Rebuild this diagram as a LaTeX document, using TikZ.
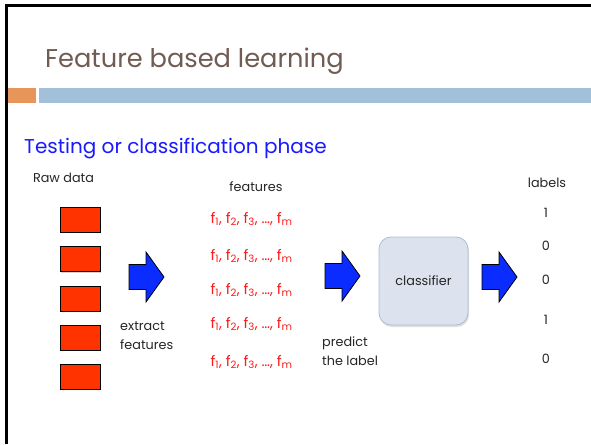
\documentclass[tikz,border=0pt]{standalone}
\usepackage{fontspec}
\setmainfont{Poppins}
\usetikzlibrary{shadows}
\definecolor{titlebrown}{HTML}{705C52}
\definecolor{barorange}{HTML}{E8955A}
\definecolor{barblue}{HTML}{A3C0D9}
\definecolor{phaseblue}{HTML}{1A1AFF}
\definecolor{rawred}{HTML}{FF3300}
\definecolor{featred}{HTML}{FF1A1A}
\definecolor{arrowblue}{HTML}{0A2CFF}
\definecolor{clsfill}{HTML}{DCE3EE}
\definecolor{clsline}{HTML}{A9BDD4}
\definecolor{inkgray}{HTML}{262626}
\tikzset{
  rawbox/.style={draw=black, line width=0.9pt, fill=rawred,
    minimum width=40pt, minimum height=25pt, inner sep=0pt,
    drop shadow={shadow xshift=1.2pt, shadow yshift=-1.2pt, opacity=0.35}},
  feat/.style={text=featred, font=\fontsize{14.5}{17}\selectfont, inner sep=0pt},
  lbl/.style={text=inkgray, font=\fontsize{12.8}{19.5}\selectfont, inner sep=0pt},
  multi/.style={lbl, align=left, anchor=west},
  blockarrow/.style={draw=black, line width=0.8pt, fill=arrowblue, line join=miter},
}
\newcommand{\featrow}{f\textsubscript{1}, f\textsubscript{2}, f\textsubscript{3}, \ldots, f\textsubscript{m}}
\newcommand{\blockarr}[2]{%
  \draw[blockarrow, shift={(#1,#2)}]
    (0,-12.5) -- (17,-12.5) -- (17,-25) -- (35,0) -- (17,25) -- (17,12.5) -- (0,12.5) -- cycle;}
\begin{document}
\begin{tikzpicture}[x=1pt, y=-1pt]
\useasboundingbox (0,0) rectangle (591,444);
\fill[white] (0,0) rectangle (591,444);
% frame lines
\draw[line width=2.2pt] (6.5,444) -- (6.5,5.5) -- (591,5.5);
% title and rule bars
\node[anchor=base west, inner sep=0pt, text=titlebrown,
  font=\fontsize{25.7}{30}\selectfont] (title) at (45,67) {Feature based learning};
\fill[barorange] (7.6,88) rectangle (36,103);
\fill[barblue] (39,88) rectangle (591,103);
% phase heading
\node[anchor=base west, inner sep=0pt, text=phaseblue,
  font=\fontsize{20}{24}\selectfont] (phase) at (24,153.5) {Testing or classification phase};
% column headings
\node[lbl] (rawhead) at (63.5,178) {Raw data};
\node[lbl] (feathead) at (256,187) {features};
\node[lbl] (labhead) at (547,183) {labels};
% raw data samples
\foreach \i/\y in {1/219.5, 2/259, 3/298.5, 4/337.5, 5/376.5}
  \node[rawbox] (raw\i) at (80,\y) {};
% feature vectors
\foreach \i/\y in {1/219, 2/256, 3/290, 4/324, 5/362}
  \node[feat] (feat\i) at (251.5,\y) {\featrow};
% block arrows
\blockarr{129}{277}
\blockarr{325}{276}
\blockarr{482}{277}
% classifier
\node[draw=clsline, line width=0.8pt, fill=clsfill, rounded corners=12pt,
  minimum width=89pt, minimum height=88pt, lbl,
  drop shadow={shadow xshift=1pt, shadow yshift=-2pt, opacity=0.25}] (clf) at (423.5,281) {classifier};
% captions
\node[multi] (extract) at (120,335.5) {extract\\features};
\node[multi] (predict) at (322,351) {predict\\the label};
% predicted labels
\foreach \i/\y/\v in {1/213/1, 2/246/0, 3/280/0, 4/320/1, 5/359/0}
  \node[lbl] (lab\i) at (546,\y) {\v};
\end{tikzpicture}
\end{document}
